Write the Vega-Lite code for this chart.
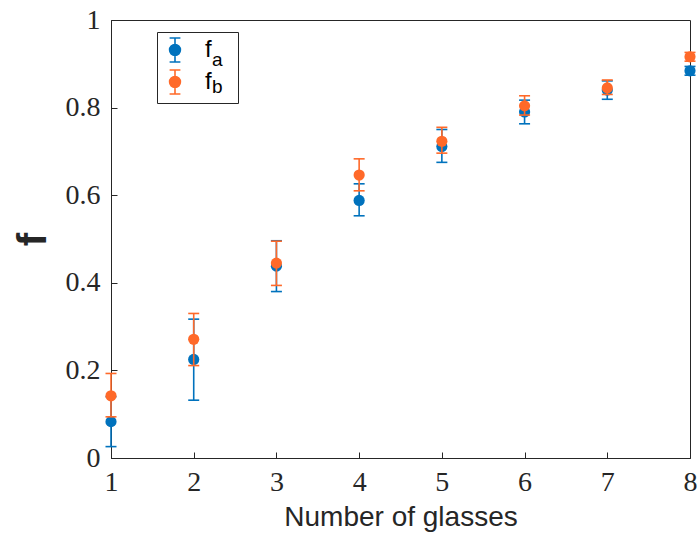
{
  "$schema": "https://vega.github.io/schema/vega-lite/v6.json",
  "width": 579,
  "height": 438,
  "autosize": "none",
  "padding": {"left": 111, "top": 20, "right": 7, "bottom": 79},
  "background": "white",
  "config": {
    "view": {"stroke": "#262626", "strokeWidth": 1},
    "axis": {"grid": false}
  },
  "data": {
    "values": [
      {"n": 1, "series": "fa", "sub": "a", "f": 0.083, "lo": 0.026, "hi": 0.140},
      {"n": 2, "series": "fa", "sub": "a", "f": 0.225, "lo": 0.132, "hi": 0.317},
      {"n": 3, "series": "fa", "sub": "a", "f": 0.438, "lo": 0.380, "hi": 0.496},
      {"n": 4, "series": "fa", "sub": "a", "f": 0.588, "lo": 0.553, "hi": 0.626},
      {"n": 5, "series": "fa", "sub": "a", "f": 0.711, "lo": 0.675, "hi": 0.750},
      {"n": 6, "series": "fa", "sub": "a", "f": 0.790, "lo": 0.763, "hi": 0.817},
      {"n": 7, "series": "fa", "sub": "a", "f": 0.840, "lo": 0.819, "hi": 0.861},
      {"n": 8, "series": "fa", "sub": "a", "f": 0.884, "lo": 0.874, "hi": 0.894},
      {"n": 1, "series": "fb", "sub": "b", "f": 0.142, "lo": 0.094, "hi": 0.193},
      {"n": 2, "series": "fb", "sub": "b", "f": 0.271, "lo": 0.211, "hi": 0.330},
      {"n": 3, "series": "fb", "sub": "b", "f": 0.445, "lo": 0.394, "hi": 0.495},
      {"n": 4, "series": "fb", "sub": "b", "f": 0.646, "lo": 0.610, "hi": 0.683},
      {"n": 5, "series": "fb", "sub": "b", "f": 0.723, "lo": 0.696, "hi": 0.755},
      {"n": 6, "series": "fb", "sub": "b", "f": 0.804, "lo": 0.783, "hi": 0.827},
      {"n": 7, "series": "fb", "sub": "b", "f": 0.845, "lo": 0.830, "hi": 0.863},
      {"n": 8, "series": "fb", "sub": "b", "f": 0.916, "lo": 0.906, "hi": 0.926}
    ]
  },
  "encoding": {
    "x": {
      "field": "n", "type": "quantitative",
      "scale": {"domain": [1, 8], "nice": false, "zero": false},
      "axis": {
        "values": [1, 2, 3, 4, 5, 6, 7, 8],
        "title": "Number of glasses",
        "titleFont": "Liberation Sans", "titleFontSize": 28, "titleFontWeight": "normal",
        "titleColor": "#262626", "titlePadding": 7,
        "labelFont": "Liberation Serif", "labelFontSize": 28, "labelColor": "#262626",
        "labelPadding": 16, "tickSize": -6, "tickColor": "#262626",
        "domainColor": "#262626", "labelFlush": false
      }
    },
    "color": {
      "field": "series", "type": "nominal",
      "scale": {"domain": ["fa", "fb"], "range": ["#0072BD", "#FF6929"]},
      "legend": {
        "orient": "none", "legendX": 46, "legendY": 12,
        "title": "MM", "titleOrient": "right", "titleOpacity": 0, "titleFontSize": 12.5,
        "titleFont": "Liberation Sans", "titlePadding": 0,
        "symbolType": "M-0.45,-1H0.45M0,-1V1M-0.45,1H0.45M0.45,0A0.45,0.45,0,1,1,-0.45,0A0.45,0.45,0,1,1,0.45,0Z",
        "symbolSize": 576, "symbolOpacity": 1, "symbolStrokeWidth": 1.6,
        "labelExpr": "'f'",
        "labelFont": "Liberation Sans", "labelFontSize": 24, "labelColor": "#000000",
        "labelOffset": 17, "labelBaseline": "middle",
        "padding": 5, "rowPadding": 0,
        "strokeColor": "#262626",
        "encode": {"symbols": {"update": {"stroke": {"scale": "color", "field": "value"}, "strokeWidth": {"value": 1.6}}}}
      }
    }
  },
  "layer": [
    {"transform": [{"filter": "datum.series === 'fa'"}], "mark": {"type": "rule", "strokeWidth": 1.6, "clip": false}, "encoding": {"y": {"field": "lo", "type": "quantitative"}, "y2": {"field": "hi"}}},
    {"transform": [{"filter": "datum.series === 'fa'"}], "mark": {"type": "tick", "orient": "horizontal", "size": 11, "thickness": 1.6, "opacity": 1, "clip": false}, "encoding": {"y": {"field": "lo", "type": "quantitative"}}},
    {"transform": [{"filter": "datum.series === 'fa'"}], "mark": {"type": "tick", "orient": "horizontal", "size": 11, "thickness": 1.6, "opacity": 1, "clip": false}, "encoding": {"y": {"field": "hi", "type": "quantitative"}}},
    {"transform": [{"filter": "datum.series === 'fa'"}], "mark": {"type": "point", "filled": true, "opacity": 1, "size": 125, "clip": false},
      "encoding": {
        "y": {
          "field": "f", "type": "quantitative",
          "scale": {"domain": [0, 1], "nice": false},
          "axis": {
            "values": [0, 0.2, 0.4, 0.6, 0.8, 1],
            "format": "~g",
            "title": "f",
            "titleFont": "Liberation Sans", "titleFontSize": 40, "titleFontWeight": "bold",
            "titleColor": "#262626", "titlePadding": 12,
            "labelFont": "Liberation Serif", "labelFontSize": 28, "labelColor": "#262626",
            "labelPadding": 17, "tickSize": -6, "tickColor": "#262626",
            "domainColor": "#262626", "labelFlush": false
          }
        },
        "shape": {
          "field": "sub", "type": "nominal",
          "scale": {"domain": ["a", "b"], "range": ["circle", "circle"]},
          "legend": {
            "orient": "none", "legendX": 77, "legendY": 34, "title": null,
            "symbolSize": 576, "symbolOpacity": 0, "symbolStrokeWidth": 0,
            "labelFont": "Liberation Sans", "labelFontSize": 19, "labelColor": "#000000",
            "labelOffset": 0, "labelBaseline": "alphabetic",
            "padding": 0, "rowPadding": 0
          }
        }
      }
    },
    {"transform": [{"filter": "datum.series === 'fb'"}], "mark": {"type": "rule", "strokeWidth": 1.6, "clip": false}, "encoding": {"y": {"field": "lo", "type": "quantitative"}, "y2": {"field": "hi"}}},
    {"transform": [{"filter": "datum.series === 'fb'"}], "mark": {"type": "tick", "orient": "horizontal", "size": 11, "thickness": 1.6, "opacity": 1, "clip": false}, "encoding": {"y": {"field": "lo", "type": "quantitative"}}},
    {"transform": [{"filter": "datum.series === 'fb'"}], "mark": {"type": "tick", "orient": "horizontal", "size": 11, "thickness": 1.6, "opacity": 1, "clip": false}, "encoding": {"y": {"field": "hi", "type": "quantitative"}}},
    {"transform": [{"filter": "datum.series === 'fb'"}], "mark": {"type": "point", "filled": true, "opacity": 1, "size": 125, "clip": false},
      "encoding": {
        "y": {"field": "f", "type": "quantitative"},
        "shape": {
          "field": "sub", "type": "nominal",
          "scale": {"domain": ["a", "b"], "range": ["circle", "circle"]},
          "legend": {
            "orient": "none", "legendX": 77, "legendY": 34, "title": null,
            "symbolSize": 576, "symbolOpacity": 0, "symbolStrokeWidth": 0,
            "labelFont": "Liberation Sans", "labelFontSize": 19, "labelColor": "#000000",
            "labelOffset": 0, "labelBaseline": "alphabetic",
            "padding": 0, "rowPadding": 0
          }
        }
      }
    }
  ]
}
